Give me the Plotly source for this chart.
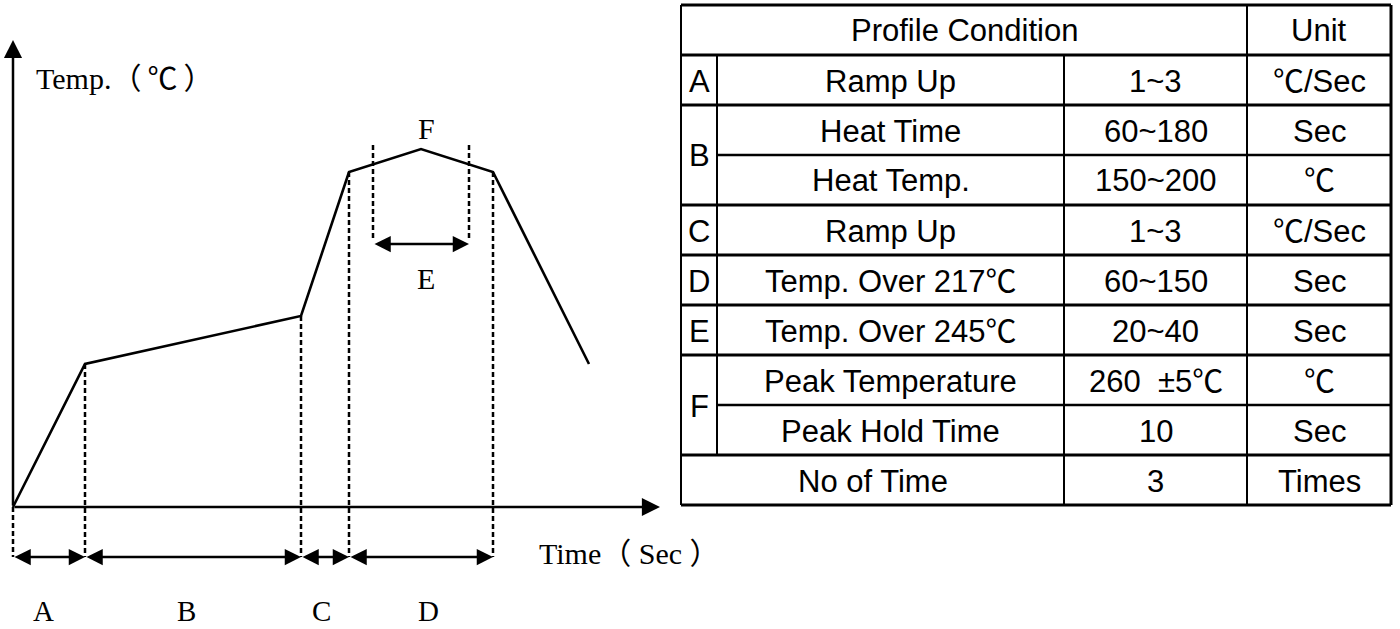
import plotly.graph_objects as go

W, H = 1400, 629

# ---------------- Reflow profile (schematic) ----------------
# time / temperature in schematic units measured from the axes origin
profile_time = [0, 72, 288, 336, 408, 480, 576]
profile_temp = [0, 143, 191, 335, 358, 335, 143]

zone_edges_time = [0, 72, 288, 336, 480]
zone_edges_temp = [0, 143, 191, 335, 335]
zone_names = ["A", "B", "C", "D"]
zone_label_time = [30, 173, 308, 415]
zone_arrow_temp = -50
zone_label_temp = -104

e_edges_time = [360, 456]
e_top_temp = 362
e_bottom_temp = 267
e_arrow_temp = 263

axis_time_end = 647
axis_temp_end = 467

# ---------------- Table content ----------------
CJK = "Noto Sans CJK KR"
DEG = '<span style="font-family:\'%s\'">℃</span>' % CJK
header_left = "Profile Condition"
header_unit = "Unit"
item_names = ["Ramp Up", "Heat Time", "Heat Temp.", "Ramp Up", "Temp. Over 217" + DEG,
              "Temp. Over 245" + DEG, "Peak Temperature", "Peak Hold Time"]
item_values = ["1~3", "60~180", "150~200", "1~3", "60~150", "20~40",
               "260 \u00a0±5" + DEG, "10"]
item_units = [DEG + "/Sec", "Sec", DEG, DEG + "/Sec", "Sec", "Sec", DEG, "Sec"]
group_letters = ["A", "B", "C", "D", "E", "F"]
group_start = [0, 1, 3, 4, 5, 6]
group_end = [1, 3, 4, 5, 6, 8]
footer_name = "No of Time"
footer_value = "3"
footer_unit = "Times"

# table geometry (pixels)
tbl_top, row_h = 5, 50
col_x = [681, 717, 1064, 1247, 1391]

SERIF = "Liberation Serif, Times New Roman, serif"
SANS = "Liberation Sans, Arial, sans-serif"

fig = go.Figure()

fig.add_trace(go.Scatter(x=profile_time, y=profile_temp, mode="lines",
                         line=dict(color="black", width=2.6), hoverinfo="skip"))

dash = "5px,3px"
for t, tp in zip(zone_edges_time, zone_edges_temp):
    fig.add_trace(go.Scatter(x=[t, t], y=[tp, zone_arrow_temp], mode="lines",
                             line=dict(color="black", width=2.5, dash=dash), hoverinfo="skip"))
for t in e_edges_time:
    fig.add_trace(go.Scatter(x=[t, t], y=[e_top_temp, e_bottom_temp], mode="lines",
                             line=dict(color="black", width=2.5, dash=dash), hoverinfo="skip"))

annotations = []

def arrow(x0, y0, x1, y1, both=True, size=1.3, width=2.5):
    annotations.append(dict(
        x=x1, y=y1, ax=x0, ay=y0, xref="x", yref="y", axref="x", ayref="y",
        text="", showarrow=True, arrowhead=2, startarrowhead=2,
        arrowside="end+start" if both else "end",
        arrowsize=size, startarrowsize=size, arrowwidth=width, arrowcolor="black",
        standoff=0, startstandoff=0))

arrow(0, 0, 0, axis_temp_end, both=False, size=1.45)
arrow(0, 0, axis_time_end, 0, both=False, size=1.45)
LF = dict(family=SERIF, size=30, color="black")
for i in range(len(zone_names)):
    arrow(zone_edges_time[i], zone_arrow_temp, zone_edges_time[i + 1], zone_arrow_temp)
    annotations.append(dict(x=zone_label_time[i], y=zone_label_temp, xref="x", yref="y",
                            text=zone_names[i], showarrow=False,
                            font=dict(family=SERIF, size=29, color="black")))
arrow(e_edges_time[0], e_arrow_temp, e_edges_time[1], e_arrow_temp)
annotations.append(dict(x=413, y=229, xref="x", yref="y", text="E", showarrow=False, font=LF))
annotations.append(dict(x=413, y=379, xref="x", yref="y", text="F", showarrow=False, font=LF))

def cjk(s):
    return "<span style=\"font-family:'%s'\">%s</span>" % (CJK, s)

annotations.append(dict(x=21, y=434, xref="x", yref="y",
                        text="Temp." + cjk("（") + "\u2009" + cjk("℃") + "\u2009" + cjk("）"),
                        showarrow=False, xanchor="left", font=LF, yshift=-3))
annotations.append(dict(x=524, y=-41, xref="x", yref="y",
                        text="Time" + cjk("（") + "\u00a0Sec\u00a0" + cjk("）"),
                        showarrow=False, xanchor="left", font=LF, yshift=-3))

# ---------------- Table drawing ----------------
def px(x):
    return x / W

def py(y):
    return 1 - y / H

shapes = []

def hline(x0, x1, y, w=2.5):
    shapes.append(dict(type="line", xref="paper", yref="paper", x0=px(x0), x1=px(x1),
                       y0=py(y), y1=py(y), line=dict(color="black", width=w)))

def vline(x, y0, y1, w=2):
    shapes.append(dict(type="line", xref="paper", yref="paper", x0=px(x), x1=px(x),
                       y0=py(y0), y1=py(y1), line=dict(color="black", width=w)))

n_items = len(item_names)
n_rows = n_items + 2
tbl_bottom = tbl_top + n_rows * row_h

for i in range(n_rows + 1):
    y = tbl_top + i * row_h
    k = i - 1
    inside = any(s < k < e for s, e in zip(group_start, group_end))
    hline(col_x[1] if inside else col_x[0], col_x[4], y, w=2.8 if not inside else 2.4)

vline(col_x[0], tbl_top, tbl_bottom, w=2)
vline(col_x[4], tbl_top, tbl_bottom, w=3)
vline(col_x[3], tbl_top, tbl_bottom, w=2)
vline(col_x[2], tbl_top + row_h, tbl_bottom, w=2)
vline(col_x[1], tbl_top + row_h, tbl_bottom - row_h, w=2)

TF = dict(family=SANS, size=31, color="black")

def cell_text(xa, xb, ya, yb, text):
    annotations.append(dict(x=px((xa + xb) / 2), y=py((ya + yb) / 2), xref="paper", yref="paper",
                            text=text, showarrow=False, xanchor="center", yanchor="middle",
                            font=TF, yshift=(3 if "℃" in text else 0) - 1))

cell_text(col_x[0], col_x[3], tbl_top, tbl_top + row_h, header_left)
cell_text(col_x[3], col_x[4], tbl_top, tbl_top + row_h, header_unit)
for k in range(n_items):
    ya = tbl_top + (k + 1) * row_h
    yb = ya + row_h
    cell_text(col_x[1], col_x[2], ya, yb, item_names[k])
    cell_text(col_x[2], col_x[3], ya, yb, item_values[k])
    cell_text(col_x[3], col_x[4], ya, yb, item_units[k])
for letter, s, e in zip(group_letters, group_start, group_end):
    cell_text(col_x[0], col_x[1], tbl_top + (s + 1) * row_h, tbl_top + (e + 1) * row_h, letter)
yf = tbl_top + (n_items + 1) * row_h
cell_text(col_x[0], col_x[2], yf, yf + row_h, footer_name)
cell_text(col_x[2], col_x[3], yf, yf + row_h, footer_value)
cell_text(col_x[3], col_x[4], yf, yf + row_h, footer_unit)

fig.update_layout(
    width=W, height=H, margin=dict(l=0, r=0, t=0, b=0),
    paper_bgcolor="white", plot_bgcolor="white", showlegend=False,
    xaxis=dict(range=[-13, W - 13], visible=False, fixedrange=True),
    yaxis=dict(range=[507 - H, 507], visible=False, fixedrange=True),
    shapes=shapes, annotations=annotations,
)

fig.write_html("out.html", config={"displayModeBar": False},
               post_script="document.body.style.margin='0';document.body.style.overflow='hidden';")
